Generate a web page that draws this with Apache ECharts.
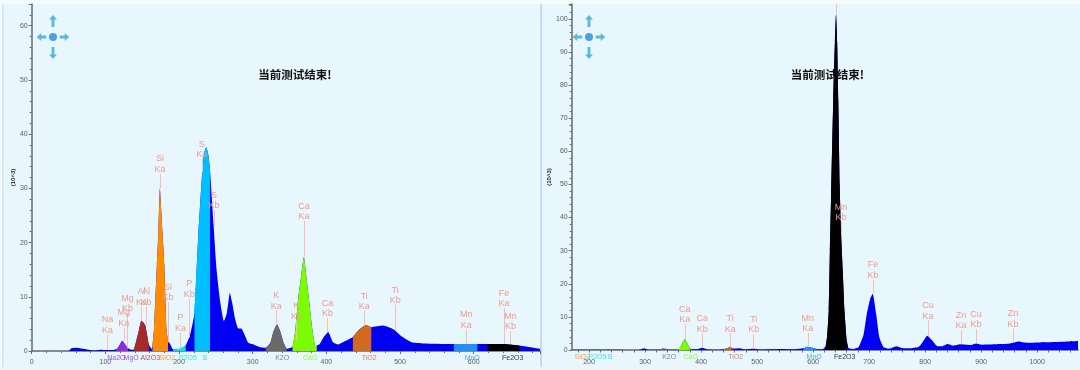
<!DOCTYPE html>
<html><head><meta charset="utf-8">
<style>html,body{margin:0;padding:0;background:#f6fbfe}#c{width:1080px;height:370px;filter:blur(0.4px)}</style>
<script src="https://cdn.jsdelivr.net/npm/echarts@6/dist/echarts.min.js"></script>
</head><body><div id="c"></div>
<script>
const leftChannels=[0,50,54,61,70,84,93,102,111,115,118,123,129,131,136,139,145,149,154,159,163,164,166,170,172,174,177.5,180,183,185,188,192,201,209,215,221,226,231,234,237,240,242,247,251,256,261,265,269,272,276,280,285,289,294,301,310,318,324,328,333,337,342,346,354,358,362,365,369.5,373.5,376,381,385,387,391,396,402.5,409,416,425,436,445,453.6,461,477,491,502,515.6,531,573,605,619,640,662,681,690];
const leftCounts=[0,0,0.5,0.6,0.4,0.1,0.25,0.2,0.2,0.3,0.8,1.9,0.8,0.5,0.2,0.3,3.5,5.6,4.8,1.2,0.4,1,4,16,22,30,22,16,4,2,1.3,0.3,0.4,1,3,7,21,32,36.5,37.6,36,33.5,23,15,9,5.5,7,10.7,9,6,4.2,4.1,3,1.5,1.2,0.7,0.6,1.5,3.5,4.9,3.8,1.5,0.4,0.8,4,10,13,17.4,13,10,4,0.9,1,1.3,2.5,3.5,1.6,1.2,1.8,2.6,4,4.8,4.4,4.7,4,2.7,1.6,1.4,1.3,1.3,1.3,1.3,1,0.6,0.4];
const rightChannels=[169,185,192,209,221,242,285,291,298,306,321,324,333,342,359.5,365,371,377,383,392,402,413,434,441,452,459.5,468,478,493,505,529,541,565,583,590.5,600,609.5,618,622.5,625,628,630,632,636,639,641,643,645,647.5,650,653,656,660,663,672,681,690,696,702,706.5,712.5,718,725.6,734,740,749,758,773,788,794,804,812,821,830,840,850.6,862.5,880,892,901,934,952,967,981.5,1005,1035,1073];
const rightCounts=[0.1,0.1,0.1,0.1,0.1,0.1,0,0.1,0.55,0.1,0.1,0.1,0.45,0.1,0.1,1.5,3.3,1.5,0.2,0.2,0.7,0.15,0.1,0.2,0.8,0.4,0.5,0.15,0.35,0.15,0.2,0.3,0.2,0.5,1,0.6,0.2,0.3,1.2,4,12,30,45,75.5,93,101.5,93,75.5,50,35,24,12,3,0.6,0.3,0.8,4.5,11,15.5,17,11,4,0.9,0.4,0.6,1.1,0.6,0.5,0.9,2,4.3,3,1.2,1.1,1.8,1.3,1.7,1.5,2,1.6,1.8,2,2.6,2.2,2.3,2.4,2.7];

const oxideNames=["Na2O","MgO","Al2O3","SiO2","P2O5","S","K2O","CaO","TiO2","MnO","Fe2O3"];
const oxideColors=["#8a2be2","#8a2be2","#a52a2a","#ff8c00","#00e5ff","#00bfff","#696969","#7cfc00","#d2691e","#1e90ff","#000000"];
const leftOxideLabelChannels=[115,135,161,184,212,235,340,378,458,598,653];
const leftRegionFrom=[null,115,139,164,192,221,318,354,436,573,619];
const leftRegionTo=[null,131,159,185,209,242,346,387,461,605,662];
const rightOxideLabelChannels=[null,null,null,188,215,237.5,343,381.5,462,602,656.5];
const rightRegionFrom=[null,null,null,169,192,221,324,359.5,441,583,622.5];
const rightRegionTo=[null,null,null,185,209,242,342,383,459.5,609.5,663];

const leftPeakNames=["Na\nKa","Mg\nKa","Mg\nKb","Al\nKa","Al\nKb","Si\nKa","Si\nKb","P\nKa","P\nKb","S\nKa","S\nKb","K\nKa","K\nKb","Ca\nKa","Ca\nKb","Ti\nKa","Ti\nKb","Mn\nKa","Fe\nKa","Mn\nKb"];
const leftPeakChannels=[103,125,130,149,155,174,185,202,214,231,247.5,332,359.5,369.5,401.6,451.4,493.4,590,641,650];
const leftPeakBases=[0.2,1.9,0.5,5.6,4.8,30,1.6,0.4,2.5,33,23,4.9,2,17.4,3.5,4.6,3.8,1.3,1.3,1.3];
const leftPeakTops=[3,4.3,7,8.2,8.2,32.7,9,3.4,9.7,35.4,26,7.5,5.6,24,6.1,7.4,8.5,4,7.9,3.7];
const rightPeakNames=["Ca\nKa","Ca\nKb","Ti\nKa","Ti\nKb","Mn\nKa","Mn\nKb","Fe\nKb","Cu\nKa","Zn\nKa","Cu\nKb","Zn\nKb",""];
const rightPeakChannels=[371,402,452,494,590.5,650,707,805,864,891,957,641];
const rightPeakBases=[3.3,0.7,0.8,0.35,1,35,17,4.3,1.7,2,2.2,101.5];
const rightPeakTops=[7.9,5,5,4.8,5.2,38.7,21.3,8.9,6,6.3,6.5,104.5];

const leftYMax=64, rightYMax=104.5;
const rightXLabels=[200,300,400,500,600,700,800,900,1000];
const rightXTickMarks=[180,200,220,240,260,280,300,320,340,360,380,400,420,440,460,480,500,520,540,560,580,600,620,640,660,680,700,720,740,760,780,800,820,840,860,880,900,920,940,960,980,1000,1020,1040,1060];
const statusText="当前测试结束!";

const AX='#6a6a6a', LAB='#5c5c5c', BLUE='#0000f2', PEAK='#f7bdb0', PEAKT='#f29a88';
const SMOOTH=0.15;

function zip(a,b){return a.map((v,i)=>[v,b[i]]);}
function panelSeries(idx,xs,ys,from,to,labelX,pn,pc,pb,pt){
  const all=zip(xs,ys);
  const out=[{type:'line',xAxisIndex:idx,yAxisIndex:idx,data:all,smooth:SMOOTH,showSymbol:false,symbol:'none',silent:true,
    lineStyle:{width:0},itemStyle:{color:BLUE},areaStyle:{color:BLUE,opacity:1},z:2,animation:false}];
  oxideNames.forEach((n,i)=>{
    if(from[i]==null) return;
    out.push({type:'line',name:n,xAxisIndex:idx,yAxisIndex:idx,data:all.filter(p=>p[0]>=from[i]&&p[0]<=to[i]),smooth:SMOOTH,showSymbol:false,symbol:'none',silent:true,
      lineStyle:{width:0},itemStyle:{color:oxideColors[i]},areaStyle:{color:oxideColors[i],opacity:1},z:3,animation:false});
  });
  const lab=[];
  oxideNames.forEach((n,i)=>{ if(labelX[i]!=null) lab.push({value:[labelX[i],0],name:n,label:{color:oxideColors[i]}}); });
  out.push({type:'scatter',xAxisIndex:idx,yAxisIndex:idx,data:lab,symbolSize:1,silent:true,z:6,animation:false,
    itemStyle:{color:'rgba(0,0,0,0)'},
    label:{show:true,position:'bottom',distance:3,formatter:'{b}',fontSize:7,fontFamily:'Liberation Sans'},
    markLine:{symbol:'none',silent:true,animation:false,
      lineStyle:{color:PEAK,type:'solid',width:1},
      label:{show:true,position:'end',formatter:'{b}',color:PEAKT,fontSize:9,lineHeight:10.5,distance:1,offset:[0,2],fontFamily:'Liberation Sans'},
      data:pn.map((n,i)=>[{coord:[pc[i],pb[i]],name:n},{coord:[pc[i],pt[i]]}])}
  });
  return out;
}
function yAxis(idx,max,gap){return {type:'value',gridIndex:idx,min:0,max:max,interval:10,name:'(10^3)',nameLocation:'middle',nameGap:gap,
  nameTextStyle:{fontSize:6,fontWeight:'bold',color:'#222',fontFamily:'Liberation Sans'},
  axisLine:{show:true,lineStyle:{color:AX,width:1.5}},axisTick:{show:true,length:3,lineStyle:{color:AX}},
  minorTick:{show:true,splitNumber:5,length:2,lineStyle:{color:AX}},splitLine:{show:false},minorSplitLine:{show:false},
  axisLabel:{fontSize:7,color:LAB,margin:4,showMaxLabel:false,fontFamily:'Liberation Sans'}};}

function arrow(cx,cy,dx,dy,len){
  const px=-dy,py=dx,h=len/2,pts=[[-h,1.4],[h-4.5,1.4],[h-4.5,4],[h,0],[h-4.5,-4],[h-4.5,-1.4],[-h,-1.4]];
  return {type:'polygon',silent:true,z:20,shape:{points:pts.map(p=>[cx+dx*p[0]+px*p[1],cy+dy*p[0]+py*p[1]])},style:{fill:'#5bb8da'}};
}
function nav(cx,cy){return [arrow(cx,cy-16,0,-1,12),arrow(cx,cy+16,0,1,12),arrow(cx-11.5,cy,-1,0,9.5),arrow(cx+11.5,cy,1,0,9.5),
  {type:'circle',silent:true,z:20,shape:{cx:cx,cy:cy,r:4},style:{fill:'#4a9fe6'}}];}

const series=[].concat(
  panelSeries(0,leftChannels,leftCounts,leftRegionFrom,leftRegionTo,leftOxideLabelChannels,leftPeakNames,leftPeakChannels,leftPeakBases,leftPeakTops),
  panelSeries(1,rightChannels,rightCounts,rightRegionFrom,rightRegionTo,rightOxideLabelChannels,rightPeakNames,rightPeakChannels,rightPeakBases,rightPeakTops));

const chart=echarts.init(document.getElementById('c'),null,{renderer:'canvas'});
chart.setOption({
  animation:false,
  backgroundColor:'#f6fbfe',
  title:[{text:statusText,left:290,top:64,textAlign:'center',textStyle:{fontSize:11.5,fontWeight:'bold',color:'#111',fontFamily:'Noto Sans CJK SC'}},
         {text:statusText,left:822.5,top:64,textAlign:'center',textStyle:{fontSize:11.5,fontWeight:'bold',color:'#111',fontFamily:'Noto Sans CJK SC'}}],
  graphic:{elements:[
    {type:'rect',silent:true,z:-10,shape:{x:3,y:4,width:536,height:363},style:{fill:'#e8f6fe'}},
    {type:'rect',silent:true,z:-10,shape:{x:542,y:4,width:538,height:363},style:{fill:'#e8f6fe'}},
    {type:'rect',silent:true,z:-9,shape:{x:2,y:4,width:1.5,height:363},style:{fill:'#cfe2f8'}},
    {type:'rect',silent:true,z:-9,shape:{x:540,y:4,width:2,height:363},style:{fill:'#c3daf6'}},
    {type:'rect',silent:true,z:-9,shape:{x:0,y:367,width:1080,height:3},style:{fill:'#f2f3f3'}},
    ...nav(53,37),...nav(589,37)
  ]},
  grid:[{left:31.7,top:4,width:508.3,height:347},{left:571.7,top:4,width:506.3,height:346}],
  xAxis:[
    {type:'value',gridIndex:0,min:0,max:690,interval:100,
     axisLine:{onZero:false,lineStyle:{color:AX,width:1.5}},axisTick:{length:3,lineStyle:{color:AX}},
     minorTick:{show:true,splitNumber:5,length:2,lineStyle:{color:AX}},splitLine:{show:false},
     axisLabel:{fontSize:7,color:LAB,margin:8,showMaxLabel:false,fontFamily:'Liberation Sans'}},
    {type:'value',gridIndex:1,min:169,max:1073,
     axisLine:{onZero:false,lineStyle:{color:AX,width:1.5}},axisTick:{length:2.5,lineStyle:{color:AX},customValues:rightXTickMarks},
     splitLine:{show:false},
     axisLabel:{fontSize:7,color:LAB,margin:9,customValues:rightXLabels,formatter:v=>String(v),fontFamily:'Liberation Sans'}}
  ],
  yAxis:[yAxis(0,leftYMax,10),yAxis(1,rightYMax,11)],
  series:series
});
</script></body></html>
